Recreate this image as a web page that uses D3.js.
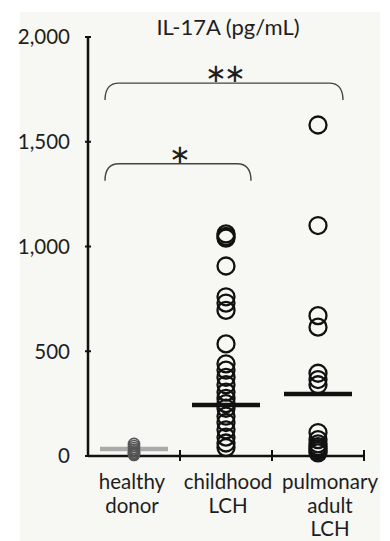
<!DOCTYPE html>
<html>
<head>
<meta charset="utf-8">
<script src="https://cdn.jsdelivr.net/npm/d3@7"></script>
<style>
  body { margin: 0; background: #fff; }
  svg { display: block; }
  text { font-family: Lato, "Open Sans", sans-serif; fill: #1e1e1e; }
</style>
</head>
<body>
<div id="chart"></div>
<script>
// categories and tick labels
var groups = ["healthy donor", "childhood LCH", "pulmonary adult LCH"];
var groupLabels = [["healthy", "donor"], ["childhood", "LCH"], ["pulmonary", "adult", "LCH"]];
var yTicks = [0, 500, 1000, 1500, 2000];

// IL-17A values (pg/mL)
var healthyVals = [5, 10, 15, 22, 30, 38, 48, 58];
var childhoodVals = [1060, 1048, 1040, 907, 760, 730, 695, 535, 440, 410, 375, 340,
                     305, 275, 250, 228, 190, 160, 125, 90, 62, 40];
var pulmonaryVals = [1580, 1100, 670, 615, 395, 365, 340, 112, 78, 58, 45, 35, 25, 15];

// horizontal bars drawn per group
var medians = [33, 243, 296];

// significance brackets: from group, to group, level
var brackets = [
  {from: 0, to: 1, level: 1395, label: "*"},
  {from: 0, to: 2, level: 1780, label: "**"}
];

var W = 390, H = 541;
var margin = {top: 37, left: 88, right: 26, bottom: 85};

var svg = d3.select("#chart").append("svg")
  .attr("width", W)
  .attr("height", H);

// light panel behind the plot
svg.append("rect")
  .attr("x", 20).attr("y", 12)
  .attr("width", 360).attr("height", H - 12)
  .attr("fill", "#f7f7f3");

var y = d3.scaleLinear()
  .domain([0, 2000])
  .range([H - margin.bottom, margin.top]);

var x = d3.scaleBand()
  .domain(groups)
  .range([margin.left, W - margin.right]);

var g = svg.append("g");

//-- y axis --//
g.append("line")
  .attr("x1", margin.left).attr("x2", margin.left)
  .attr("y1", y(2000)).attr("y2", y(0))
  .attr("stroke", "#111").attr("stroke-width", 2.5);

g.selectAll(".ytick").data(yTicks).enter()
  .append("line")
  .attr("x1", margin.left - 3).attr("x2", margin.left + 3)
  .attr("y1", function(d) { return y(d); })
  .attr("y2", function(d) { return y(d); })
  .attr("stroke", "#111").attr("stroke-width", 2);

g.selectAll(".ylab").data(yTicks).enter()
  .append("text")
  .attr("x", 70)
  .attr("y", function(d) { return y(d); })
  .attr("dy", "0.36em")
  .attr("text-anchor", "end")
  .attr("font-size", 20.5)
  .text(function(d) { return d3.format(",")(d); });

//-- x axis --//
g.append("line")
  .attr("x1", margin.left).attr("x2", W - margin.right)
  .attr("y1", y(0)).attr("y2", y(0))
  .attr("stroke", "#111").attr("stroke-width", 2.5);

g.selectAll(".xtick").data(groups).enter()
  .append("line")
  .attr("x1", function(d) { return x(d) + x.bandwidth(); })
  .attr("x2", function(d) { return x(d) + x.bandwidth(); })
  .attr("y1", y(0) - 6).attr("y2", y(0) + 5)
  .attr("stroke", "#111").attr("stroke-width", 2);

// last label sits a little right of its column in the original
var labelShift = [-2, 2, 12];
var xl = g.selectAll(".xlab").data(groups).enter()
  .append("text")
  .attr("text-anchor", "middle")
  .attr("font-size", 20.5);

xl.selectAll("tspan").data(function(d, i) { return groupLabels[i].map(function(s) { return {s: s, g: d, i: i}; }); })
  .enter().append("tspan")
  .attr("x", function(d) { return x(d.g) + x.bandwidth() / 2 + labelShift[d.i]; })
  .attr("y", function(d, j) { return 489 + j * 23.5; })
  .text(function(d) { return d.s; });

//-- title --//
g.append("text")
  .attr("x", 228).attr("y", 35)
  .attr("text-anchor", "middle")
  .attr("font-size", 22)
  .text("IL-17A (pg/mL)");

//-- medians --//
var medColors = ["#aaaaaa", "#111", "#111"];
g.selectAll(".median").data(medians).enter()
  .append("line")
  .attr("x1", function(d, i) { return x(groups[i]) + x.bandwidth() / 2 - 34; })
  .attr("x2", function(d, i) { return x(groups[i]) + x.bandwidth() / 2 + 34; })
  .attr("y1", function(d) { return y(d); })
  .attr("y2", function(d) { return y(d); })
  .attr("stroke", function(d, i) { return medColors[i]; })
  .attr("stroke-width", 4.5);

//-- points --//
function drawPoints(vals, grp, r, col, sw) {
  g.selectAll(null).data(vals).enter()
    .append("circle")
    .attr("cx", x(grp) + x.bandwidth() / 2)
    .attr("cy", function(d) { return y(d); })
    .attr("r", r)
    .attr("fill", "none")
    .attr("stroke", col)
    .attr("stroke-width", sw);
}
drawPoints(healthyVals, groups[0], 5.5, "#555", 1.6);
drawPoints(childhoodVals, groups[1], 8.5, "#111", 2.3);
drawPoints(pulmonaryVals, groups[2], 8.5, "#111", 2.3);

//-- brackets --//
var left = 105, rr = 14, drop = 17;
brackets.forEach(function(b) {
  var x0 = left;
  var x1 = x(groups[b.to]) + x.bandwidth() / 2 + 25;
  var yy = y(b.level);
  var p = d3.path();
  p.moveTo(x0, yy + drop);
  p.quadraticCurveTo(x0, yy, x0 + rr, yy);
  p.lineTo(x1 - rr, yy);
  p.quadraticCurveTo(x1, yy, x1, yy + drop);
  g.append("path")
    .attr("d", p.toString())
    .attr("fill", "none")
    .attr("stroke", "#444")
    .attr("stroke-width", 1.4);
  g.append("text")
    .attr("x", (x0 + x1) / 2)
    .attr("y", yy - 1)
    .attr("text-anchor", "middle")
    .attr("font-size", 26)
    .attr("letter-spacing", -3)
    .attr("fill", "#333")
    .text(b.label.replace(/\*/g, "\u2217"));
});
</script>
</body>
</html>
